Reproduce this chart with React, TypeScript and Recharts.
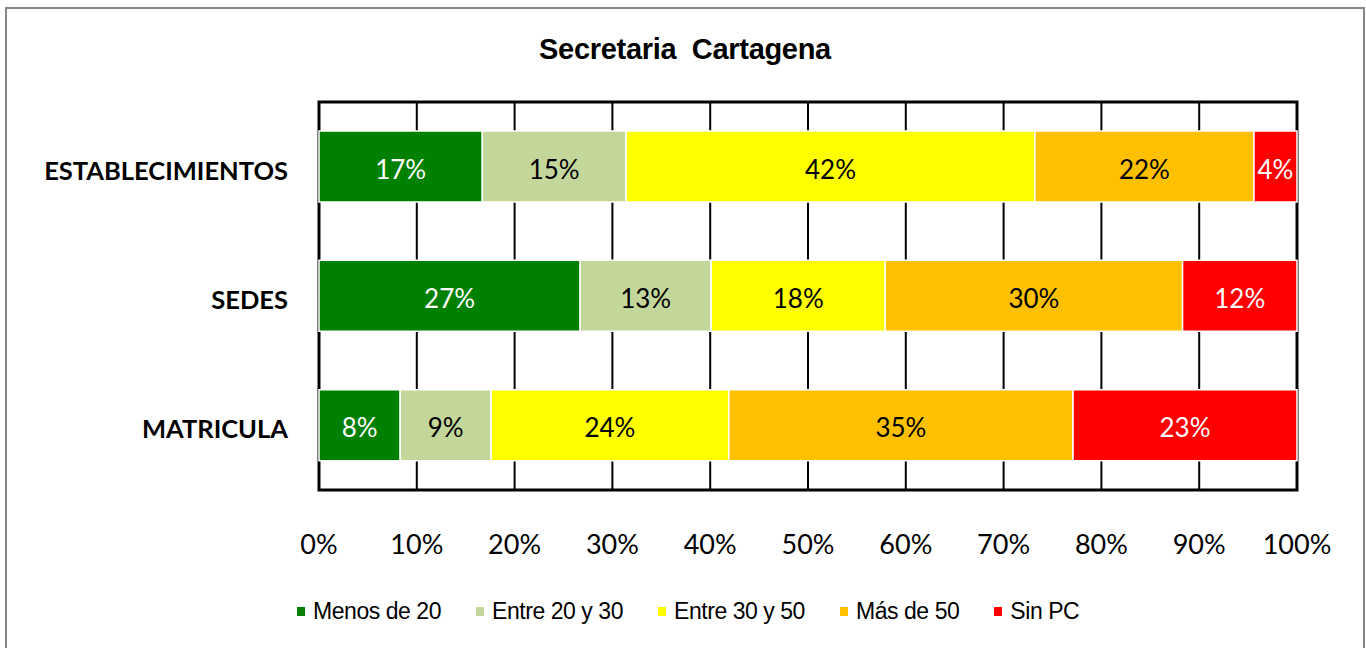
import { Bar, BarChart, CartesianGrid, LabelList, ReferenceArea, XAxis, YAxis } from 'recharts'

const categories = ['ESTABLECIMIENTOS', 'SEDES', 'MATRICULA']
const menosDe20 = [16.7, 26.7, 8.3]
const entre20y30 = [14.7, 13.4, 9.3]
const entre30y50 = [41.8, 17.8, 24.3]
const masDe50 = [22.4, 30.4, 35.2]
const sinPC = [4.4, 11.7, 22.9]
const xTicks = [0, 10, 20, 30, 40, 50, 60, 70, 80, 90, 100]

const series = [
  { key: 'menos20', name: 'Menos de 20', values: menosDe20, color: '#008000', label: '#FFFFFF' },
  { key: 'entre20', name: 'Entre 20 y 30', values: entre20y30, color: '#C4D79B', label: '#000000' },
  { key: 'entre30', name: 'Entre 30 y 50', values: entre30y50, color: '#FFFF00', label: '#000000' },
  { key: 'mas50', name: 'Más de 50', values: masDe50, color: '#FFC000', label: '#000000' },
  { key: 'sinpc', name: 'Sin PC', values: sinPC, color: '#FF0000', label: '#FFFFFF' }
]

const data = categories.map((name, i) => {
  const row: Record<string, string | number> = { name }
  series.forEach((s) => { row[s.key] = s.values[i] })
  return row
})

const calibri = 'Lato, "Open Sans", sans-serif'
const arial = '"Liberation Sans", Arial, sans-serif'

function XTick({ x, y, payload }: any) {
  return (
    <text x={x} y={y + 53} textAnchor="middle" dominantBaseline="central" fontFamily={calibri} fontSize={27} fill="#000">
      {payload.value}%
    </text>
  )
}

function YTick({ x, y, payload }: any) {
  return (
    <text x={x} y={y + 3} textAnchor="end" dominantBaseline="central" fontFamily={calibri} fontWeight="bold" fontSize={25.5} fill="#000">
      {payload.value}
    </text>
  )
}

export default function App() {
  return (
    <div style={{ position: 'absolute', left: 5, top: 7, width: 1360, height: 641, border: '2px solid #868686', borderBottom: 'none', boxSizing: 'border-box', background: '#fff' }}>
      <div style={{ position: 'absolute', left: 0, top: 24, width: 1356, textAlign: 'center', fontFamily: arial, fontWeight: 'bold', fontSize: 29, letterSpacing: -0.3, color: '#000' }}>
        Secretaria&nbsp; Cartagena
      </div>
      <BarChart width={1356} height={639} data={data} layout="vertical" margin={{ top: 93, right: 66, bottom: 0, left: 0 }} barSize={71}>
        <CartesianGrid horizontal={false} stroke="#000" strokeWidth={2} />
        <XAxis type="number" domain={[0, 100]} ticks={xTicks} height={158} axisLine={false} tickLine={false} tickSize={0} tickMargin={0} tick={<XTick />} />
        <YAxis type="category" dataKey="name" width={312} axisLine={false} tickLine={false} tickSize={0} tickMargin={31} tick={<YTick />} />
        {series.map((s) => (
          <Bar key={s.key} dataKey={s.key} name={s.name} stackId="a" fill={s.color} stroke="#fff" strokeWidth={1.5} isAnimationActive={false}>
            <LabelList dataKey={s.key} position="center" dy={3} formatter={(v: any) => `${Math.round(Number(v))}%`} fill={s.label} fontFamily={calibri} fontSize={26} />
          </Bar>
        ))}
        <ReferenceArea x1={0} x2={100} fill="none" stroke="#000" strokeWidth={3} ifOverflow="visible" />
      </BarChart>
      <div style={{ position: 'absolute', left: 290, top: 589, display: 'flex', alignItems: 'center', fontFamily: arial, fontSize: 23, letterSpacing: -0.45, color: '#000' }}>
        {series.map((s) => (
          <div key={s.key} style={{ display: 'flex', alignItems: 'center', marginRight: 35 }}>
            <span style={{ display: 'inline-block', width: 8, height: 9, background: s.color, marginRight: 8 }} />
            <span>{s.name}</span>
          </div>
        ))}
      </div>
    </div>
  )
}
